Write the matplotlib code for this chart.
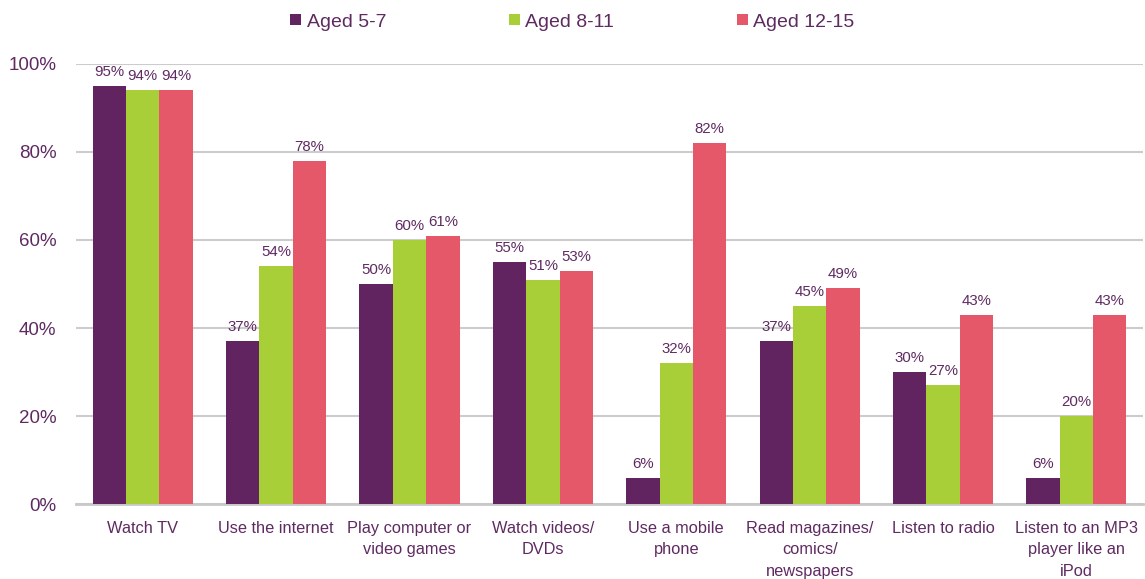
import matplotlib.pyplot as plt
import numpy as np

plt.rcParams['font.family'] = ['Liberation Sans', 'DejaVu Sans']

categories = ['Watch TV', 'Use the internet', 'Play computer or\nvideo games',
              'Watch videos/\nDVDs', 'Use a mobile\nphone',
              'Read magazines/\ncomics/\nnewspapers', 'Listen to radio',
              'Listen to an MP3\nplayer like an\niPod']
aged_5_7 = [95, 37, 50, 55, 6, 37, 30, 6]
aged_8_11 = [94, 54, 60, 51, 32, 45, 27, 20]
aged_12_15 = [94, 78, 61, 53, 82, 49, 43, 43]
series_names = ['Aged 5-7', 'Aged 8-11', 'Aged 12-15']
colors = ['#622361', '#a8cf38', '#e5586a']
text_color = '#5f2a62'

fig = plt.figure(figsize=(11.45, 5.79), dpi=100)
ax = fig.add_axes([0.0664, 0.1295, 0.932, 0.76])

x = np.arange(len(categories))
w = 0.25
for i, (vals, name, c) in enumerate(zip([aged_5_7, aged_8_11, aged_12_15], series_names, colors)):
    bars = ax.bar(x + (i - 1) * w, vals, w, color=c, label=name, zorder=3)
    for b, v in zip(bars, vals):
        ax.annotate(f'{v}%', (b.get_x() + b.get_width() / 2, v), xytext=(0, 5),
                    textcoords='offset points', ha='center', va='bottom',
                    fontsize=10.8, color=text_color, annotation_clip=False)

ax.set_xlim(-0.5, len(categories) - 0.5)
ax.set_ylim(0, 100)
ax.set_yticks(range(0, 101, 20))
ax.set_yticklabels([f'{t}%' for t in range(0, 101, 20)])
ax.set_xticks(x)
ax.set_xticklabels(categories, linespacing=1.55)
ax.tick_params(axis='both', length=0, colors=text_color)
ax.tick_params(axis='y', pad=14, labelsize=13.5)
ax.tick_params(axis='x', pad=12, labelsize=11.8)
ax.yaxis.grid(True, color='#cccccc', linewidth=1.5, zorder=0)
for s in ['top', 'right', 'left']:
    ax.spines[s].set_visible(False)
ax.spines['bottom'].set_color('#c8c8c8')
ax.spines['bottom'].set_linewidth(2)

fig.legend(loc='center', bbox_to_anchor=(0.5, 0.962), ncol=3, frameon=False,
           fontsize=14, labelcolor=text_color, handlelength=0.55, handleheight=0.55,
           handletextpad=0.3, columnspacing=6.3)

fig.savefig('out.png', dpi=100)
